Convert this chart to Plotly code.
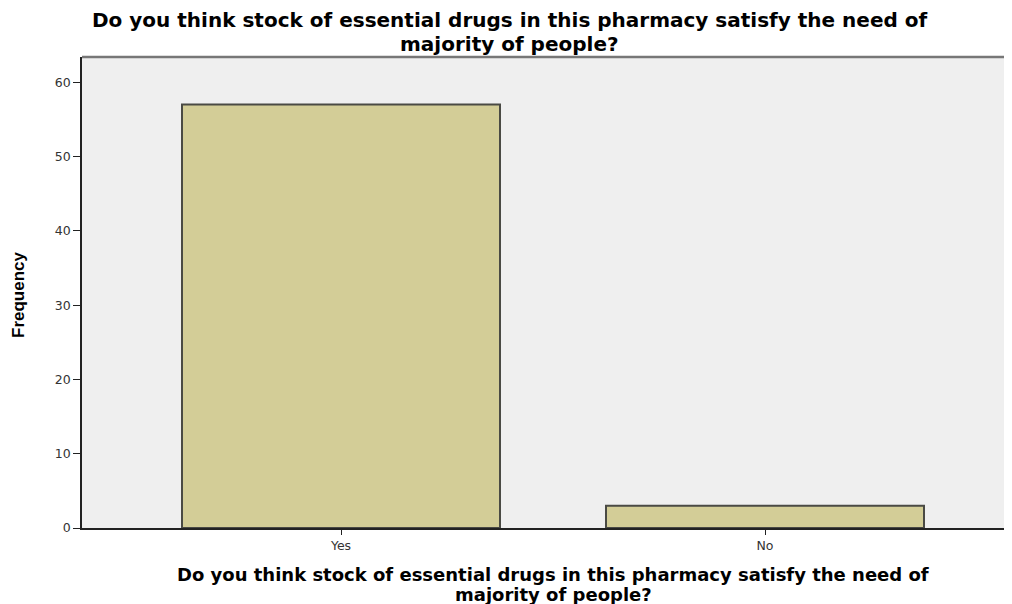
import plotly.graph_objects as go

categories = ["Yes", "No"]
frequencies = [57, 3]
y_ticks = [0, 10, 20, 30, 40, 50, 60]

title_line1 = "Do you think stock of essential drugs in this pharmacy satisfy the need of"
title_line2 = "majority of people?"

# The page body adds an 8px margin, so the figure is placed 8px in
OFF = 8
W, H = 1012, 604 - OFF
L, R, T, B = 82 - OFF, 0, 57 - OFF, 76
PW, PH = W - L - R, H - T - B
X0_PX, PX_PER_CAT = 341, 424  # page px of first category centre, px between categories


def px_x(x):
    return (x - OFF - L) / PW


def px_y(y):
    return (H - B - (y - OFF)) / PH


x_lo = -(X0_PX - OFF - L) / PX_PER_CAT
x_hi = x_lo + PW / PX_PER_CAT

fig = go.Figure()
fig.add_trace(go.Bar(
    x=[0, 1], y=frequencies, width=0.75,
    marker=dict(color="#D3CD97", line=dict(color="#4a4a44", width=2)),
    hoverinfo="skip",
))

axis_font = dict(family="DejaVu Sans", size=12.5, color="#333")
fig.update_layout(
    width=W, height=H,
    margin=dict(l=L, r=R, t=T, b=B, autoexpand=False),
    paper_bgcolor="white", plot_bgcolor="#EFEFEF",
    showlegend=False,
    xaxis=dict(
        range=[x_lo, x_hi], tickmode="array", tickvals=[0, 1], ticktext=categories,
        showgrid=False, zeroline=False, showline=True, linecolor="#222", linewidth=1.5,
        ticks="outside", ticklen=5, tickcolor="#222", tickfont=axis_font, automargin=False,
    ),
    yaxis=dict(
        range=[0, 63.4], tickmode="array", tickvals=y_ticks,
        showgrid=False, zeroline=False, showline=True, linecolor="#222", linewidth=1.5,
        ticks="outside", ticklen=7, tickcolor="#222", tickfont=axis_font, automargin=False,
    ),
    annotations=[
        dict(text="<b>" + title_line1 + "</b>", x=px_x(509), xref="paper", xanchor="center",
             y=px_y(20), yref="paper", yanchor="middle", showarrow=False,
             font=dict(family="DejaVu Sans", size=20, color="black")),
        dict(text="<b>" + title_line2 + "</b>", x=px_x(509), xref="paper", xanchor="center",
             y=px_y(44), yref="paper", yanchor="middle", showarrow=False,
             font=dict(family="DejaVu Sans", size=20, color="black")),
        dict(text="<b>" + title_line1 + "</b>", x=px_x(553), xref="paper", xanchor="center",
             y=px_y(574), yref="paper", yanchor="middle", showarrow=False,
             font=dict(family="DejaVu Sans", size=18, color="black")),
        dict(text="<b>" + title_line2 + "</b>", x=px_x(553), xref="paper", xanchor="center",
             y=px_y(594), yref="paper", yanchor="middle", showarrow=False,
             font=dict(family="DejaVu Sans", size=18, color="black")),
        dict(text="<b>Frequency</b>", x=px_x(18), xref="paper", xanchor="center",
             y=px_y(295), yref="paper", yanchor="middle", textangle=-90, showarrow=False,
             font=dict(family="Liberation Sans", size=17, color="black")),
    ],
    shapes=[
        dict(type="line", xref="paper", yref="paper", x0=0, x1=1, y0=1, y1=1,
             line=dict(color="#777", width=2.5)),
    ],
)

fig.write_html("out.html")
